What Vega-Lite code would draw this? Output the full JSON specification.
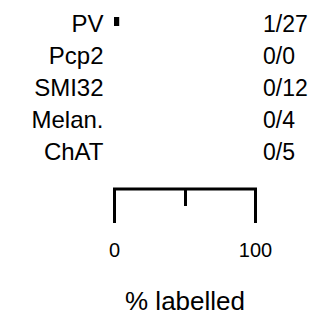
{
  "$schema": "https://vega.github.io/schema/vega-lite/v6.json",
  "width": 141,
  "height": 160,
  "autosize": "none",
  "padding": {"left": 114, "top": 5.5, "right": 72, "bottom": 155.5},
  "background": "white",
  "config": {"view": {"stroke": null}, "font": "Liberation Sans"},
  "data": {
    "values": [
      {"marker": "PV", "pct": 3.7, "count": "1/27"},
      {"marker": "Pcp2", "pct": 0, "count": "0/0"},
      {"marker": "SMI32", "pct": 0, "count": "0/12"},
      {"marker": "Melan.", "pct": 0, "count": "0/4"},
      {"marker": "ChAT", "pct": 0, "count": "0/5"}
    ]
  },
  "encoding": {
    "y": {
      "field": "marker",
      "type": "nominal",
      "sort": null,
      "scale": {"paddingInner": 0, "paddingOuter": 0},
      "axis": {
        "title": null,
        "domain": false,
        "ticks": false,
        "labelFont": "Liberation Sans",
        "labelFontSize": 24,
        "labelColor": "#000000",
        "labelPadding": 11,
        "labelOffset": 3.5
      }
    }
  },
  "layer": [
    {
      "mark": {"type": "bar", "color": "#000000", "size": 9},
      "encoding": {
        "x": {
          "field": "pct",
          "type": "quantitative",
          "scale": {"domain": [0, 100], "nice": false},
          "axis": {
            "title": "% labelled",
            "titleFont": "Liberation Sans",
            "titleFontSize": 26,
            "titleFontWeight": "normal",
            "titleColor": "#000000",
            "titlePadding": 28,
            "values": [0, 50, 100],
            "labelExpr": "datum.value == 50 ? '' : datum.label",
            "labelFont": "Liberation Sans",
            "labelFontSize": 20,
            "labelColor": "#000000",
            "labelPadding": 18,
            "labelFlush": false,
            "offset": 23,
            "grid": false,
            "domainColor": "#000000",
            "domainWidth": 3,
            "domainCap": "square",
            "tickColor": "#000000",
            "tickWidth": 3,
            "tickSize": {"condition": {"test": "datum.value == 50", "value": 17}, "value": 34}
          }
        }
      }
    },
    {
      "mark": {"type": "text", "align": "left", "baseline": "middle", "dx": 8, "dy": 3.5, "fontSize": 23, "font": "Liberation Sans", "color": "#000000"},
      "encoding": {
        "x": {"datum": 100, "type": "quantitative"},
        "text": {"field": "count"}
      }
    }
  ]
}
